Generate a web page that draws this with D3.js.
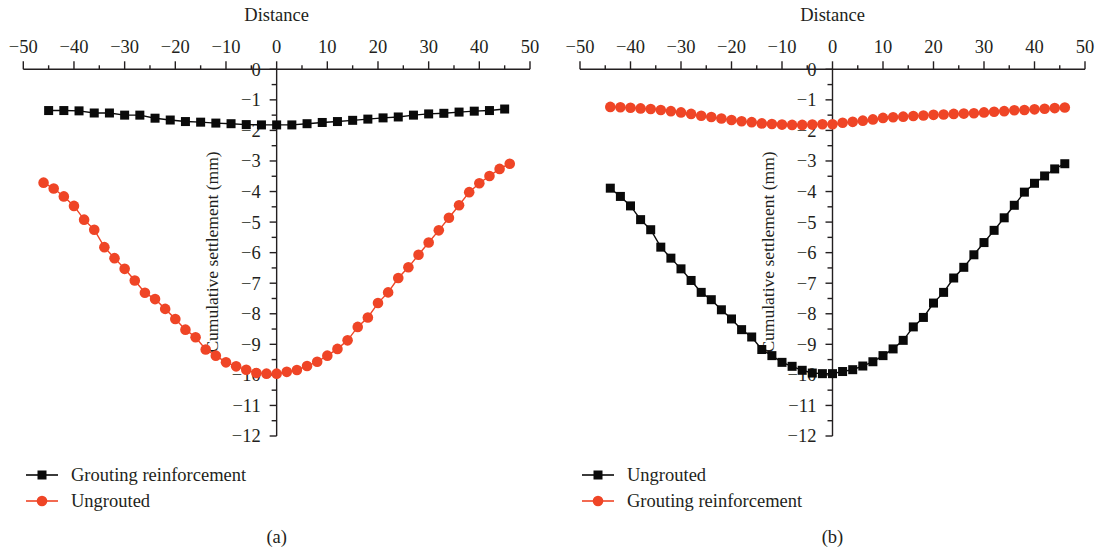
<!DOCTYPE html>
<html>
<head>
<meta charset="utf-8">
<script src="https://cdn.jsdelivr.net/npm/d3@7"></script>
<style>
  html, body { margin: 0; padding: 0; background: #fff; }
</style>
</head>
<body>
<svg id="chart" width="1097" height="554" font-family="'Liberation Serif', 'DejaVu Serif', serif"></svg>
<script>
// Distance positions (m) and cumulative settlement (mm)
const xTicks = [-50, -40, -30, -20, -10, 0, 10, 20, 30, 40, 50];
const yTicks = [0, -1, -2, -3, -4, -5, -6, -7, -8, -9, -10, -11, -12];

// Panel (a)
const distAGrouted = [-45, -42, -39, -36, -33, -30, -27, -24, -21, -18, -15, -12, -9, -6, -3, 0,
  3, 6, 9, 12, 15, 18, 21, 24, 27, 30, 33, 36, 39, 42, 45];
const settleAGrouted = [-1.35, -1.35, -1.36, -1.43, -1.43, -1.50, -1.50, -1.60, -1.66, -1.71, -1.73,
  -1.76, -1.78, -1.81, -1.82, -1.82, -1.82, -1.78, -1.74, -1.71, -1.67, -1.63, -1.59, -1.56, -1.50,
  -1.46, -1.44, -1.40, -1.37, -1.35, -1.30];

const distAUngrouted = [-46, -44, -42, -40, -38, -36, -34, -32, -30, -28, -26, -24, -22, -20, -18,
  -16, -14, -12, -10, -8, -6, -4, -2, 0, 2, 4, 6, 8, 10, 12, 14, 16, 18, 20, 22, 24, 26, 28, 30,
  32, 34, 36, 38, 40, 42, 44, 46];
const settleAUngrouted = [-3.71, -3.90, -4.16, -4.47, -4.92, -5.25, -5.82, -6.18, -6.53, -6.91,
  -7.31, -7.52, -7.84, -8.17, -8.52, -8.77, -9.17, -9.37, -9.59, -9.72, -9.83, -9.94, -9.96, -9.96,
  -9.90, -9.84, -9.71, -9.57, -9.37, -9.15, -8.87, -8.43, -8.12, -7.65, -7.30, -6.83, -6.48, -6.07,
  -5.67, -5.27, -4.86, -4.45, -4.02, -3.73, -3.49, -3.26, -3.09];

// Panel (b)
const distB = [-44, -42, -40, -38, -36, -34, -32, -30, -28, -26, -24, -22, -20, -18, -16, -14,
  -12, -10, -8, -6, -4, -2, 0, 2, 4, 6, 8, 10, 12, 14, 16, 18, 20, 22, 24, 26, 28, 30, 32, 34, 36,
  38, 40, 42, 44, 46];
const settleBUngrouted = [-3.89, -4.16, -4.47, -4.92, -5.25, -5.82, -6.18, -6.53, -6.91, -7.30,
  -7.54, -7.87, -8.17, -8.52, -8.76, -9.17, -9.37, -9.59, -9.72, -9.85, -9.94, -9.96, -9.96, -9.89,
  -9.83, -9.71, -9.57, -9.37, -9.15, -8.87, -8.43, -8.12, -7.65, -7.30, -6.83, -6.48, -6.07, -5.67,
  -5.27, -4.86, -4.45, -4.02, -3.73, -3.49, -3.26, -3.09];
const settleBGrouted = [-1.23, -1.24, -1.26, -1.28, -1.30, -1.33, -1.37, -1.41, -1.46, -1.52,
  -1.56, -1.61, -1.66, -1.70, -1.73, -1.77, -1.79, -1.81, -1.82, -1.82, -1.81, -1.80, -1.80, -1.75,
  -1.72, -1.68, -1.64, -1.59, -1.57, -1.55, -1.53, -1.51, -1.49, -1.48, -1.46, -1.45, -1.44, -1.41,
  -1.39, -1.37, -1.34, -1.33, -1.31, -1.29, -1.27, -1.25];

const BLACK = "#0a0a0a";
const RED = "#ef4526";
const INK = "#231f20";
const FONT = "'Liberation Serif', 'DejaVu Serif', serif";

const svg = d3.select("#chart");

function addText(sel, size = 18.5) {
  return sel.attr("font-family", FONT).attr("fill", INK).attr("font-size", size);
}

function drawPanel(opts) {
  const x = d3.scaleLinear().domain([-50, 50]).range([opts.x0, opts.x1]);
  const y = d3.scaleLinear().domain([0, -12]).range([69.3, 436]);
  const g = svg.append("g");

  // top distance axis: ticks point up toward the labels
  const xMinor = d3.range(-45, 50, 10);
  const xa = g.append("g").attr("transform", `translate(0,${y(0)})`);
  xa.append("line").attr("x1", x(-50)).attr("x2", x(50))
    .attr("stroke", INK).attr("stroke-width", 1.4);
  xa.selectAll(".maj").data(xTicks).join("line")
    .attr("x1", d => x(d)).attr("x2", d => x(d)).attr("y1", 0).attr("y2", -8)
    .attr("stroke", INK).attr("stroke-width", 1.4);
  xa.selectAll(".min").data(xMinor).join("line")
    .attr("x1", d => x(d)).attr("x2", d => x(d)).attr("y1", 0).attr("y2", -4)
    .attr("stroke", INK).attr("stroke-width", 1.4);
  addText(xa.selectAll("text").data(xTicks).join("text"))
    .attr("x", d => x(d)).attr("y", -16)
    .attr("text-anchor", "middle")
    .text(d => d < 0 ? "\u2212" + Math.abs(d) : d);

  addText(g.append("text")).attr("x", x(0)).attr("y", 21)
    .attr("text-anchor", "middle").text("Distance");

  // vertical settlement axis through distance 0, ticks to the left
  const yMinor = d3.range(-0.5, -12, -1);
  const ya = g.append("g").attr("transform", `translate(${x(0)},0)`);
  ya.append("line").attr("y1", y(0)).attr("y2", y(-12))
    .attr("stroke", INK).attr("stroke-width", 1.4);
  ya.selectAll(".maj").data(yTicks).join("line")
    .attr("x1", 0).attr("x2", -7).attr("y1", d => y(d)).attr("y2", d => y(d))
    .attr("stroke", INK).attr("stroke-width", 1.4);
  ya.selectAll(".min").data(yMinor).join("line")
    .attr("x1", 0).attr("x2", -5).attr("y1", d => y(d)).attr("y2", d => y(d))
    .attr("stroke", INK).attr("stroke-width", 1.4);
  addText(ya.selectAll("text").data(yTicks).join("text"))
    .attr("x", -16).attr("y", d => y(d)).attr("dy", "0.35em")
    .attr("text-anchor", "end")
    .text(d => d < 0 ? "\u2212" + Math.abs(d) : d);

  addText(g.append("text"), 17.5)
    .attr("transform", `translate(${x(0) - 65},252) rotate(-90)`)
    .attr("text-anchor", "middle").attr("dy", "0.35em")
    .text("Cumulative settlement (mm)");

  // series
  const line = d3.line().x(d => x(d[0])).y(d => y(d[1]));
  opts.series.forEach(s => {
    const pts = s.dist.map((d, i) => [d, s.vals[i]]);
    g.append("path").datum(pts).attr("d", line)
      .attr("fill", "none").attr("stroke", s.color).attr("stroke-width", 1.4);
    if (s.shape === "square") {
      g.selectAll(null).data(pts).join("rect")
        .attr("x", d => x(d[0]) - 4.5).attr("y", d => y(d[1]) - 4.5)
        .attr("width", 9).attr("height", 9).attr("fill", s.color);
    } else {
      g.selectAll(null).data(pts).join("circle")
        .attr("cx", d => x(d[0])).attr("cy", d => y(d[1])).attr("r", 5.3)
        .attr("fill", s.color);
    }
  });

  // legend
  opts.series.forEach((s, i) => {
    const ly = 475 + i * 26;
    const lg = g.append("g");
    lg.append("line").attr("x1", opts.legX).attr("x2", opts.legX + 32)
      .attr("y1", ly).attr("y2", ly).attr("stroke", s.color).attr("stroke-width", 1.6);
    if (s.shape === "square") {
      lg.append("rect").attr("x", opts.legX + 16 - 4.5).attr("y", ly - 4.5)
        .attr("width", 9).attr("height", 9).attr("fill", s.color);
    } else {
      lg.append("circle").attr("cx", opts.legX + 16).attr("cy", ly).attr("r", 5.3)
        .attr("fill", s.color);
    }
    addText(lg.append("text")).attr("x", opts.legX + 45).attr("y", ly).attr("dy", "0.35em")
      .text(s.name);
  });

  addText(g.append("text")).attr("x", x(0)).attr("y", 537).attr("dy", "0.35em")
    .attr("text-anchor", "middle").text(opts.caption);
}

drawPanel({
  x0: 23.3, x1: 530, legX: 26, caption: "(a)",
  series: [
    { name: "Grouting reinforcement", dist: distAGrouted, vals: settleAGrouted, color: BLACK, shape: "square" },
    { name: "Ungrouted", dist: distAUngrouted, vals: settleAUngrouted, color: RED, shape: "circle" }
  ]
});

drawPanel({
  x0: 580, x1: 1085, legX: 582, caption: "(b)",
  series: [
    { name: "Ungrouted", dist: distB, vals: settleBUngrouted, color: BLACK, shape: "square" },
    { name: "Grouting reinforcement", dist: distB, vals: settleBGrouted, color: RED, shape: "circle" }
  ]
});
</script>
</body>
</html>
